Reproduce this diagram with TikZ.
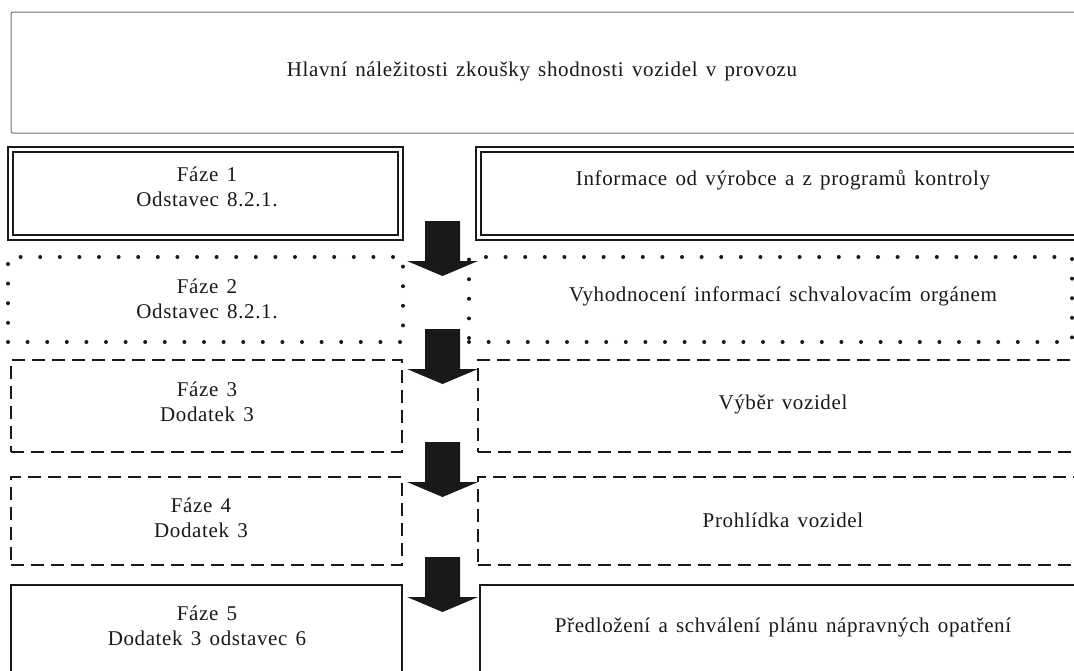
\documentclass[tikz,border=0pt]{standalone}
\usepackage{fontspec}
\setmainfont[WordSpace=1.4,LetterSpace=3]{Liberation Serif}
\begin{document}
\begin{tikzpicture}[x=1pt,y=-1pt,
  every node/.style={inner sep=0pt,outer sep=0pt},
  label/.style={align=center,font=\fontsize{21}{24.5}\selectfont,text=black!90},
  box/.style={anchor=north west,draw=black!90},
  titlebox/.style={box,draw=black!55,line width=1pt,rounded corners=2pt},
  outerline/.style={box,line width=2.4pt},
  innerline/.style={box,line width=1.1pt},
  dottedbox/.style={box,line width=4pt,line cap=round,dash pattern=on 0pt off 19.6pt},
  dashedbox/.style={box,line width=2pt,dash pattern=on 13pt off 7pt},
  solidbox/.style={box,line width=1.6pt},
  downarrow/.pic={\fill[black!90] (-17.5,0) -- (17.5,0) -- (17.5,40) -- (35.5,40)
      -- (0,55) -- (-35.5,40) -- (-17.5,40) -- cycle;}
]
\useasboundingbox (0,0) rectangle (1074,670);
\clip (0,0) rectangle (1074,670);
\fill[white] (0,0) rectangle (1074,670);

% heading
\node[titlebox,minimum width=1075pt,minimum height=121pt] (head) at (11,12) {};
\node[label] (headt) at (542,71) {Hlavní náležitosti zkoušky shodnosti vozidel v provozu};

% phase 1: double frame
\node[outerline,minimum width=395pt,minimum height=93pt] (p1) at (8,147) {};
\node[innerline,minimum width=385pt,minimum height=83pt] (p1i) at (13,152) {};
\node[outerline,minimum width=620pt,minimum height=93pt] (r1) at (476,147) {};
\node[innerline,minimum width=610pt,minimum height=83pt] (r1i) at (481,152) {};
\node[label] (p1t) at (207,187) {Fáze 1\\Odstavec 8.2.1.};
\node[label] (r1t) at (783,180) {Informace od výrobce a z programů kontroly};

% phase 2: dotted frame
\node[dottedbox,minimum width=395pt,minimum height=85pt] (p2) at (8,257) {};
\node[dottedbox,minimum width=603pt,minimum height=85pt] (r2) at (469,257) {};
\node[label] (p2t) at (207,299) {Fáze 2\\Odstavec 8.2.1.};
\node[label] (r2t) at (783,296) {Vyhodnocení informací schvalovacím orgánem};

% phase 3: dashed frame
\node[dashedbox,minimum width=391pt,minimum height=92pt] (p3) at (11,360) {};
\node[dashedbox,minimum width=620pt,minimum height=92pt] (r3) at (478,360) {};
\node[label] (p3t) at (207,402) {Fáze 3\\Dodatek 3};
\node[label] (r3t) at (783,404) {Výběr vozidel};

% phase 4: dashed frame
\node[dashedbox,minimum width=391pt,minimum height=88pt] (p4) at (11,477) {};
\node[dashedbox,minimum width=620pt,minimum height=88pt] (r4) at (478,477) {};
\node[label] (p4t) at (201,518) {Fáze 4\\Dodatek 3};
\node[label] (r4t) at (783,520) {Prohlídka vozidel};

% phase 5: plain frame, running off the page
\node[solidbox,minimum width=391pt,minimum height=100pt] (p5) at (11,585) {};
\node[solidbox,minimum width=620pt,minimum height=100pt] (r5) at (480,585) {};
\node[label] (p5t) at (207,626) {Fáze 5\\Dodatek 3 odstavec 6};
\node[label] (r5t) at (783,627) {Předložení a schválení plánu nápravných opatření};

% block arrows between the phases
\coordinate (a1) at (442.5,221);
\coordinate (a2) at (442.5,329);
\coordinate (a3) at (442.5,442);
\coordinate (a4) at (442.5,557);
\pic at (a1) {downarrow};
\pic at (a2) {downarrow};
\pic at (a3) {downarrow};
\pic at (a4) {downarrow};
\end{tikzpicture}
\end{document}
